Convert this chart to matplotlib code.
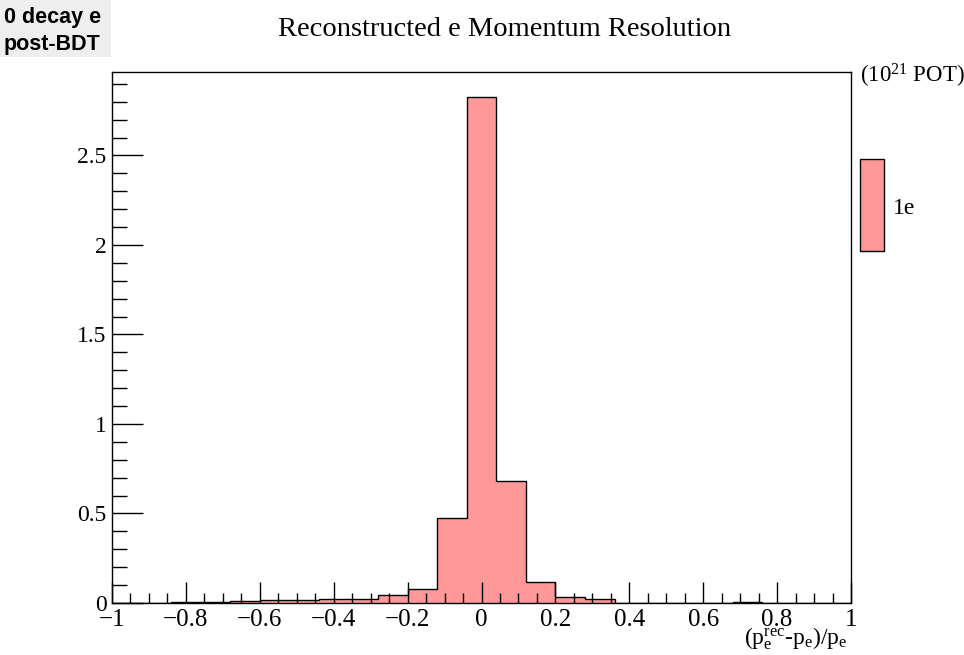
"""Reconstructed electron momentum resolution, ROOT-style histogram."""

import matplotlib
matplotlib.use("Agg")
import matplotlib.pyplot as plt
import numpy as np
from matplotlib.patches import Rectangle
from matplotlib.ticker import MultipleLocator, FuncFormatter

# 25 bins of width 0.08 from -1 to 1
bin_edges = np.linspace(-1.0, 1.0, 26)
counts_1e = [
    0.0, 0.0, 0.003, 0.003, 0.012, 0.016, 0.017, 0.022, 0.024, 0.043,
    0.077, 0.474, 2.825, 0.68, 0.117, 0.035, 0.021, 0.002, 0.002, 0.002,
    0.002, 0.008, 0.002, 0.0, 0.0,
]
fill_color = "#ff9999"

plt.rcParams["font.family"] = ["Liberation Serif", "DejaVu Serif"]
plt.rcParams["mathtext.fontset"] = "custom"
plt.rcParams["mathtext.rm"] = "Liberation Serif"
plt.rcParams["mathtext.it"] = "Liberation Serif"

fig = plt.figure(figsize=(9.64, 6.55), dpi=100)
ax = fig.add_axes([112 / 964, 1 - 603 / 655, (851 - 112) / 964, (603 - 72) / 655])

ax.stairs(counts_1e, bin_edges, fill=True, color=fill_color, linewidth=0)
ax.stairs(counts_1e, bin_edges, fill=False, color="black", linewidth=1.0)

ax.set_xlim(-1, 1)
ax.set_ylim(0, 2.966)


def root_fmt(v, _):
    v = round(v, 6)
    if v == 0:
        return "0"
    return f"{v:g}".replace("-", "\u2212")


ax.xaxis.set_major_locator(MultipleLocator(0.2))
ax.xaxis.set_minor_locator(MultipleLocator(0.05))
ax.yaxis.set_major_locator(MultipleLocator(0.5))
ax.yaxis.set_minor_locator(MultipleLocator(0.1))
ax.xaxis.set_major_formatter(FuncFormatter(root_fmt))
ax.yaxis.set_major_formatter(FuncFormatter(root_fmt))

ax.tick_params(axis="x", which="major", direction="in", length=15, width=1,
               labelsize=18, pad=4, top=False)
ax.tick_params(axis="x", which="minor", direction="in", length=7.5, width=1, top=False)
ax.tick_params(axis="y", which="major", direction="in", length=22, width=1,
               labelsize=17, pad=4, right=False)
ax.tick_params(axis="y", which="minor", direction="in", length=11, width=1, right=False)
for s in ax.spines.values():
    s.set_linewidth(1.0)

fig.text(505 / 964, 1 - 29 / 655, "Reconstructed e Momentum Resolution",
         ha="center", va="center", fontsize=20.5)

fig.text(848 / 964, 1 - 639 / 655,
         r"(p$_\mathregular{e}^\mathregular{rec}$-p$_\mathregular{e}$)/p$_\mathregular{e}$",
         ha="right", va="center", fontsize=17)

fig.text(860 / 964, 1 - 76 / 655, r"(10$^{21}$ POT)", ha="left", va="center",
         fontsize=16.5)

fig.patches.append(Rectangle((860 / 964, 1 - 251 / 655), 24 / 964, 92 / 655,
                             transform=fig.transFigure, facecolor=fill_color,
                             edgecolor="black", linewidth=1.0))
fig.text(893 / 964, 1 - 209 / 655, "1e", ha="left", va="center", fontsize=17)

fig.patches.append(Rectangle((0, 1 - 57 / 655), 111 / 964, 57 / 655,
                             transform=fig.transFigure, facecolor="#eeeeee",
                             edgecolor="none"))
fig.text(4 / 964, 1 - 31 / 655, "0 decay e\npost-BDT", ha="left", va="center",
         fontsize=15.5, fontweight="bold", family="Liberation Sans", linespacing=1.35)

fig.savefig("out.png", dpi=100)
